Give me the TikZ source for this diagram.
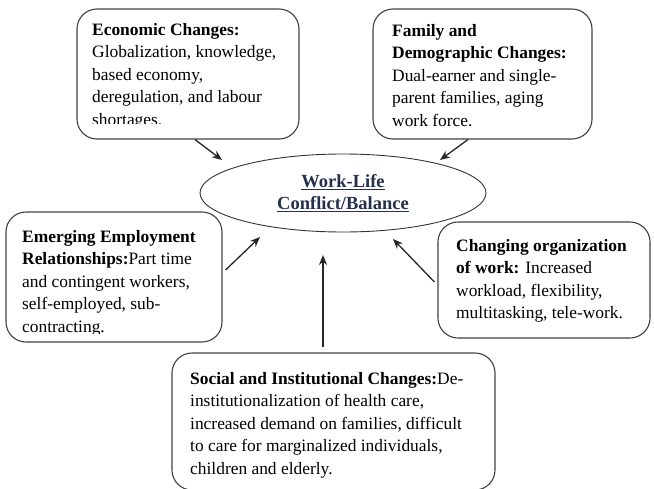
\documentclass[tikz,border=0pt]{standalone}
\usepackage{fontspec}
\setmainfont{Liberation Serif}
\usetikzlibrary{arrows.meta, shapes.geometric}
\definecolor{TitleNavy}{RGB}{36, 48, 78}

\begin{document}
\begin{tikzpicture}[x=1pt, y=-1pt,
        box/.style={rectangle, draw=black!75, line width=1.1pt, rounded corners=20pt, inner sep=0pt},
        boxtext/.style={anchor=base west, align=left, inner sep=0pt, font=\fontsize{17.4}{22.5}\selectfont},
        hub/.style={ellipse, draw=black!80, line width=0.9pt, minimum width=286pt, minimum height=78pt, inner sep=0pt, align=center, text=TitleNavy, font=\fontsize{18.5}{22}\selectfont\bfseries},
        arrow/.style={-{Stealth[length=10pt, width=8pt]}, line width=1.3pt, black!85}
    ]
    \clip (0,0) rectangle (654,488);

    % the five boxes
    \node[box, minimum width=222pt, minimum height=130pt] (eco) at (188,74) {};
    \node[box, minimum width=219pt, minimum height=130pt] (fam) at (482.5,74) {};
    \node[box, minimum width=216pt, minimum height=130pt] (emp) at (114,277) {};
    \node[box, minimum width=212pt, minimum height=116pt] (org) at (544,280) {};
    \node[box, minimum width=323pt, minimum height=137pt] (soc) at (333.5,421.5) {};

    % the centre
    \node[hub] (wlb) at (343,193) {\underline{Work-Life}\\\underline{Conflict/Balance}};

    % texts (placed by the baseline of their last line), cut off at the inner margin of their box
    \begin{scope}
        \clip (eco.north west) rectangle ([yshift=16pt]eco.south east);
        \node[boxtext] (ecotxt) at (92,125) {\textbf{Economic Changes:}\\Globalization, knowledge,\\based economy,\\deregulation, and labour\\shortages.};
    \end{scope}
    \node[boxtext] (famtxt) at (392,126) {\textbf{Family and}\\\textbf{Demographic Changes:}\\Dual-earner and single-\\parent families, aging\\work force.};
    \begin{scope}
        \clip (emp.north west) rectangle ([yshift=9pt]emp.south east);
        \node[boxtext] (emptxt) at (22,332) {\textbf{Emerging Employment}\\\textbf{Relationships:}Part time\\and contingent workers,\\self-employed, sub-\\contracting.};
    \end{scope}
    \node[boxtext] (orgtxt) at (456,318.5) {\textbf{Changing organization}\\\textbf{of work:} Increased\\workload, flexibility,\\multitasking, tele-work.};
    \node[boxtext] (soctxt) at (190,474) {\textbf{Social and Institutional Changes:}De-\\institutionalization of health care,\\increased demand on families, difficult\\to care for marginalized individuals,\\children and elderly.};

    % arrow tips, short of the ellipse
    \coordinate (ecoTip) at (222,160);
    \coordinate (famTip) at (440,160);
    \coordinate (empTip) at (260,237);
    \coordinate (orgTip) at (393,239);
    \coordinate (socTip) at (323,255);

    \draw[arrow] ([xshift=7pt]eco.south) -- (ecoTip);
    \draw[arrow] ([xshift=-14.5pt]fam.south) -- (famTip);
    \draw[arrow] ([xshift=3pt, yshift=7pt]emp.east) -- (empTip);
    \draw[arrow] ([xshift=-3pt, yshift=-2pt]org.west) -- (orgTip);
    \draw[arrow] ([xshift=-10.5pt, yshift=5pt]soc.north) -- (socTip);
\end{tikzpicture}
\end{document}
